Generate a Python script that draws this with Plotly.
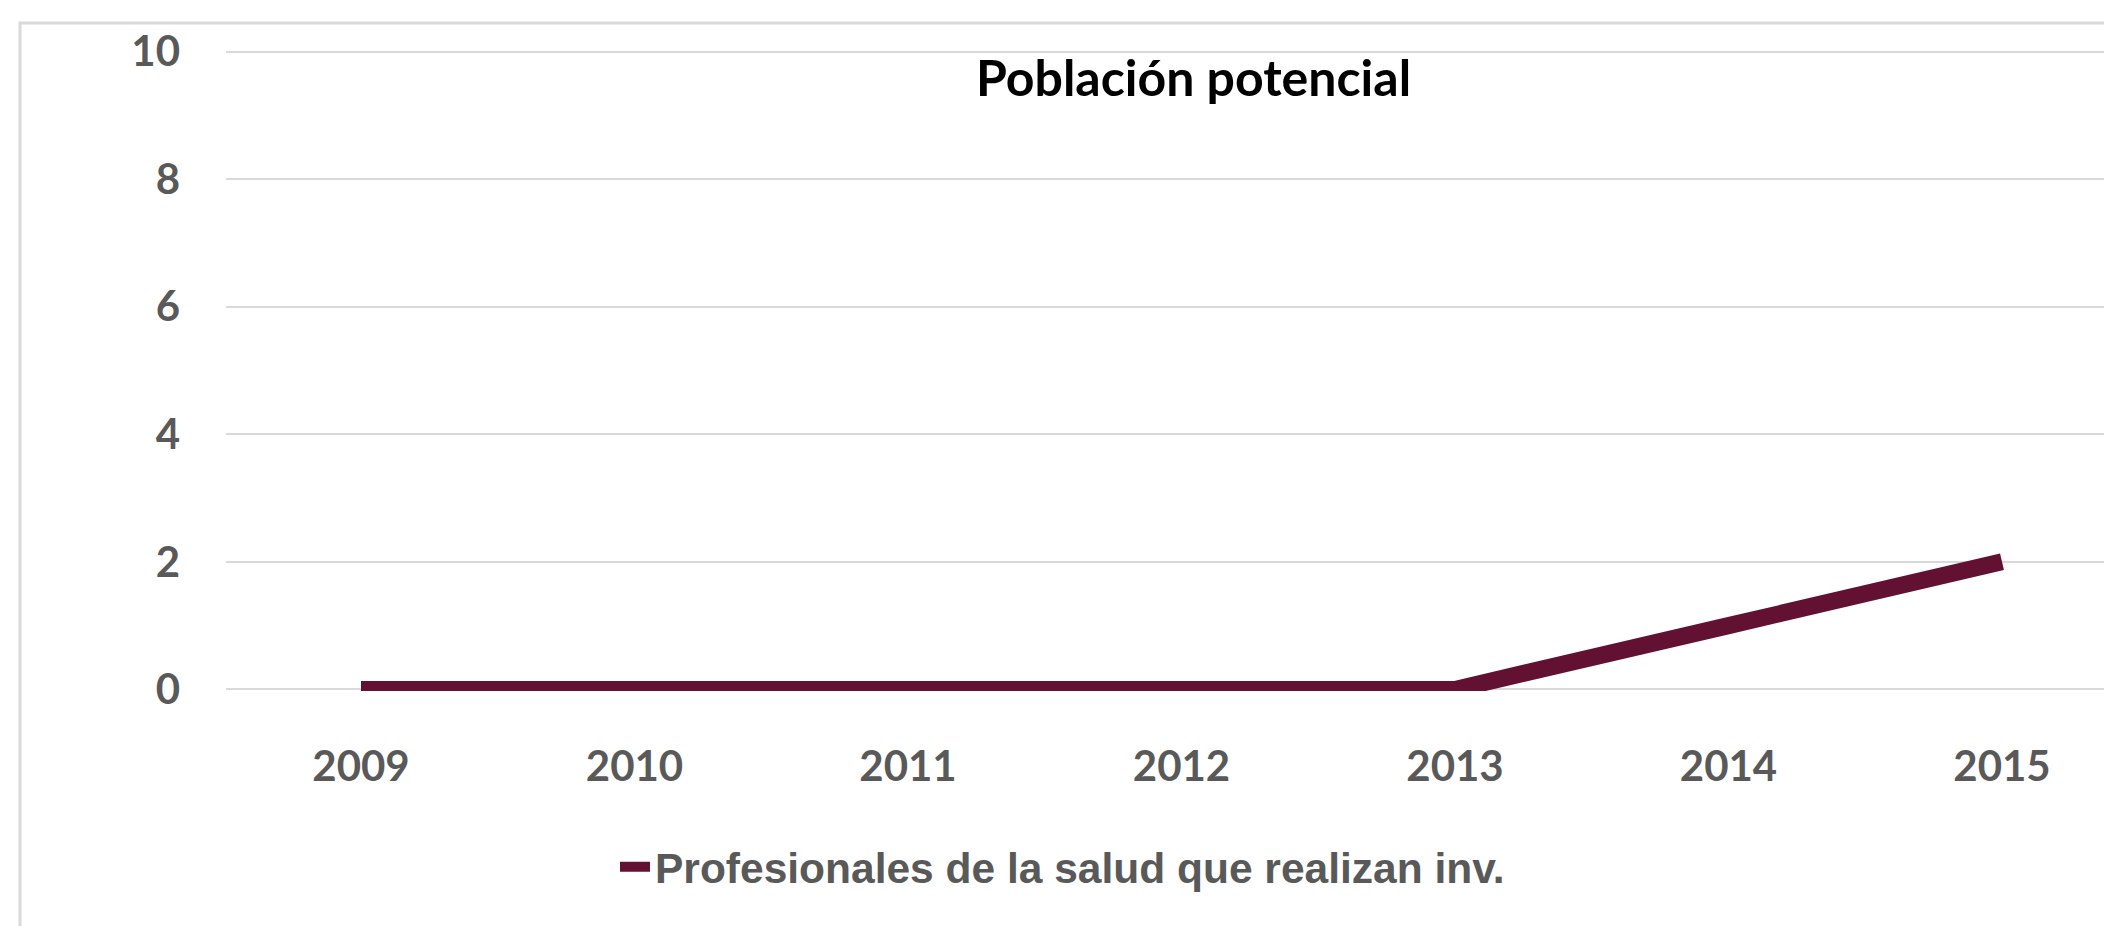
import plotly.graph_objects as go

years = ["2009", "2010", "2011", "2012", "2013", "2014", "2015"]
values = [0, 0, 0, 0, 0, 1, 2]
series_name = "Profesionales de la salud que realizan inv."
title_text = "Población potencial"
y_ticks = [0, 2, 4, 6, 8, 10]

W, H = 2112, 926
OFF = 8  # default body margin of the written page
L, R, T, B = 218, 0, 42, 243
pw, ph = W - L - R, H - T - B

def fx(page_px):
    return (page_px - OFF - L) / pw

def fy(page_py):
    return 1 - (page_py - OFF - T) / ph

cat_px = 273.5
x0 = -(361 - OFF - L) / cat_px
x1 = x0 + pw / cat_px

fig = go.Figure()
fig.add_trace(go.Scatter(
    x=years, y=values, mode="lines", name=series_name,
    line=dict(color="#621132", width=17),
    showlegend=True,
))

fig.update_layout(
    width=W, height=H,
    margin=dict(l=L, r=R, t=T, b=B),
    paper_bgcolor="white", plot_bgcolor="white",
    showlegend=True,
    legend=dict(
        orientation="h", x=fx(615), xanchor="left",
        y=fy(867), yanchor="middle",
        font=dict(family="Liberation Sans", size=42.5, color="#595959", weight="bold"),
        itemwidth=30, bgcolor="rgba(0,0,0,0)",
    ),
    xaxis=dict(
        type="category", range=[x0, x1],
        showgrid=False, zeroline=False, showline=False,
        ticks="", ticklabelstandoff=47,
        tickfont=dict(family="Lato", size=42, color="#595959", weight="bold"),
    ),
    yaxis=dict(
        range=[-0.025, 10.025], tickvals=y_ticks,
        showgrid=True, gridcolor="#d9d9d9", gridwidth=2,
        zeroline=False, showline=False,
        ticks="", ticklabelstandoff=45,
        tickfont=dict(family="Lato", size=42, color="#595959", weight="bold"),
    ),
    annotations=[dict(
        text=title_text, x=fx(1193), y=fy(77),
        xref="paper", yref="paper", xanchor="center", yanchor="middle",
        showarrow=False,
        font=dict(family="Lato", size=50, color="black", weight="bold"),
    )],
    shapes=[dict(
        type="rect", xref="paper", yref="paper",
        x0=fx(20), x1=fx(2140),
        y0=fy(960), y1=fy(23),
        line=dict(color="#d9d9d9", width=3), fillcolor="rgba(0,0,0,0)",
        layer="below",
    )],
)

fig.write_html("out.html")
